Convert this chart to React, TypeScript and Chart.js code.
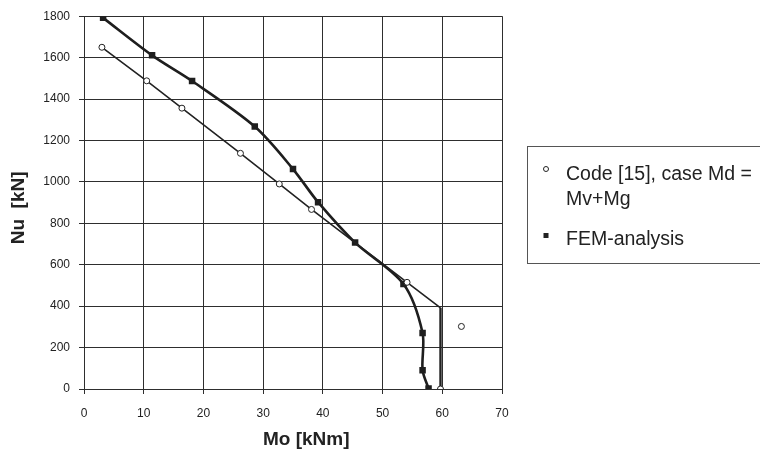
import React, { useEffect, useRef } from "react";
import { Chart, registerables } from "chart.js";

Chart.register(...registerables);

// Code [15], case Md = Mv+Mg (connected line)
const codeMo = [3, 10.5, 16.4, 26.2, 32.7, 38.1, 54.1, 59.7, 59.7];
const codeNu = [1650, 1488, 1356, 1138, 990, 867, 515, 392, 0];
const codeRadius = [3, 3, 3, 3, 3, 3, 3, 0, 3];
// Code [15] isolated point
const codeExtraMo = [63.2];
const codeExtraNu = [302];
// FEM-analysis
const femMo = [3.2, 11.4, 18.1, 28.6, 35.0, 39.2, 45.4, 53.5, 56.7, 56.7, 57.7];
const femNu = [1792, 1611, 1487, 1267, 1062, 902, 707, 507, 270, 91, 2];

const xTicks = [0, 10, 20, 30, 40, 50, 60, 70];
const yTicks = [0, 200, 400, 600, 800, 1000, 1200, 1400, 1600, 1800];

const legendLabels = ["Code [15], case Md =", "Mv+Mg", "FEM-analysis"];

const toPts = (xs: number[], ys: number[]) => xs.map((x, i) => ({ x, y: ys[i] }));

const INK = "#222";
const GRID = "#2e2e2e";

const legendPlugin = {
  id: "boxLegend",
  afterDraw(chart: any) {
    const ctx = chart.ctx as CanvasRenderingContext2D;
    ctx.save();
    ctx.strokeStyle = "#555";
    ctx.lineWidth = 1;
    ctx.strokeRect(527.5, 146.5, 260, 117);
    // circle marker
    ctx.beginPath();
    ctx.arc(546, 169, 2.5, 0, Math.PI * 2);
    ctx.fillStyle = "#fff";
    ctx.fill();
    ctx.strokeStyle = INK;
    ctx.lineWidth = 1;
    ctx.stroke();
    // square marker
    ctx.fillStyle = INK;
    ctx.fillRect(543.5, 233, 5, 5);
    ctx.fillStyle = INK;
    ctx.font = "19.5px Arial, 'Liberation Sans', sans-serif";
    ctx.textBaseline = "alphabetic";
    ctx.textAlign = "left";
    ctx.fillText(legendLabels[0], 566, 180);
    ctx.fillText(legendLabels[1], 566, 205);
    ctx.fillText(legendLabels[2], 566, 245);
    ctx.restore();
  },
};

export default function App() {
  const ref = useRef<HTMLCanvasElement | null>(null);
  useEffect(() => {
    if (!ref.current) return;
    const lastSeg = codeMo.length - 2;
    const chart = new Chart(ref.current, {
      type: "scatter",
      data: {
        datasets: [
          {
            label: "Code [15], case Md = Mv+Mg",
            data: toPts(codeMo, codeNu),
            showLine: true,
            borderColor: INK,
            borderWidth: 1.6,
            segment: {
              borderWidth: (c: any) => (c.p0DataIndex === lastSeg ? 2.4 : 1.6),
            },
            pointRadius: codeRadius,
            pointStyle: "circle",
            pointBackgroundColor: "#fff",
            pointBorderColor: INK,
            pointBorderWidth: 1,
            tension: 0,
          },
          {
            label: "Code extra",
            data: toPts(codeExtraMo, codeExtraNu),
            showLine: false,
            pointRadius: 3,
            pointStyle: "circle",
            pointBackgroundColor: "#fff",
            pointBorderColor: INK,
            pointBorderWidth: 1,
          },
          {
            label: "FEM-analysis",
            data: toPts(femMo, femNu),
            showLine: true,
            borderColor: "#1e1e1e",
            borderWidth: 2.6,
            pointRadius: 4.6,
            pointStyle: "rect",
            pointBackgroundColor: "#1e1e1e",
            pointBorderColor: "#1e1e1e",
            pointBorderWidth: 0,
            tension: 0.3,
          },
        ],
      },
      options: {
        animation: false,
        responsive: false,
        layout: { padding: { left: 0, top: 14, right: 258, bottom: 3 } },
        plugins: {
          legend: { display: false },
          tooltip: { enabled: false },
        },
        scales: {
          x: {
            type: "linear",
            min: 0,
            max: 70,
            afterBuildTicks: (s: any) => {
              s.ticks = xTicks.map((v) => ({ value: v }));
            },
            afterFit: (s: any) => {
              s.height = 65;
            },
            ticks: {
              color: INK,
              font: { family: "Arial, 'Liberation Sans', sans-serif", size: 12 },
              padding: 12,
              maxRotation: 0,
              callback: (v: any) => String(v),
            },
            grid: { color: GRID, lineWidth: 1, tickLength: 5 },
            border: { display: true, color: GRID, width: 1 },
            title: {
              display: true,
              text: "     Mo [kNm]",
              color: INK,
              font: { family: "Arial, 'Liberation Sans', sans-serif", size: 19, weight: "bold" },
              padding: { top: 0, bottom: 3 },
            },
          },
          y: {
            type: "linear",
            min: 0,
            max: 1800,
            afterBuildTicks: (s: any) => {
              s.ticks = yTicks.map((v) => ({ value: v }));
            },
            afterFit: (s: any) => {
              s.width = 84;
            },
            ticks: {
              color: INK,
              font: { family: "Arial, 'Liberation Sans', sans-serif", size: 12 },
              padding: 9,
              callback: (v: any) => String(v),
            },
            grid: { color: GRID, lineWidth: 1, tickLength: 5 },
            border: { display: true, color: GRID, width: 1 },
            title: {
              display: true,
              text: "Nu  [kN]  ",
              color: INK,
              font: { family: "Arial, 'Liberation Sans', sans-serif", size: 19, weight: "bold" },
              padding: { top: 7, bottom: 0 },
            },
          },
        },
      },
      plugins: [legendPlugin],
    });
    return () => chart.destroy();
  }, []);

  return (
    <div
      style={{
        position: "fixed",
        left: 0,
        top: 0,
        width: 760,
        height: 457,
        overflow: "hidden",
        background: "#fff",
      }}
    >
      <canvas ref={ref} width={760} height={457} style={{ display: "block" }} />
    </div>
  );
}
